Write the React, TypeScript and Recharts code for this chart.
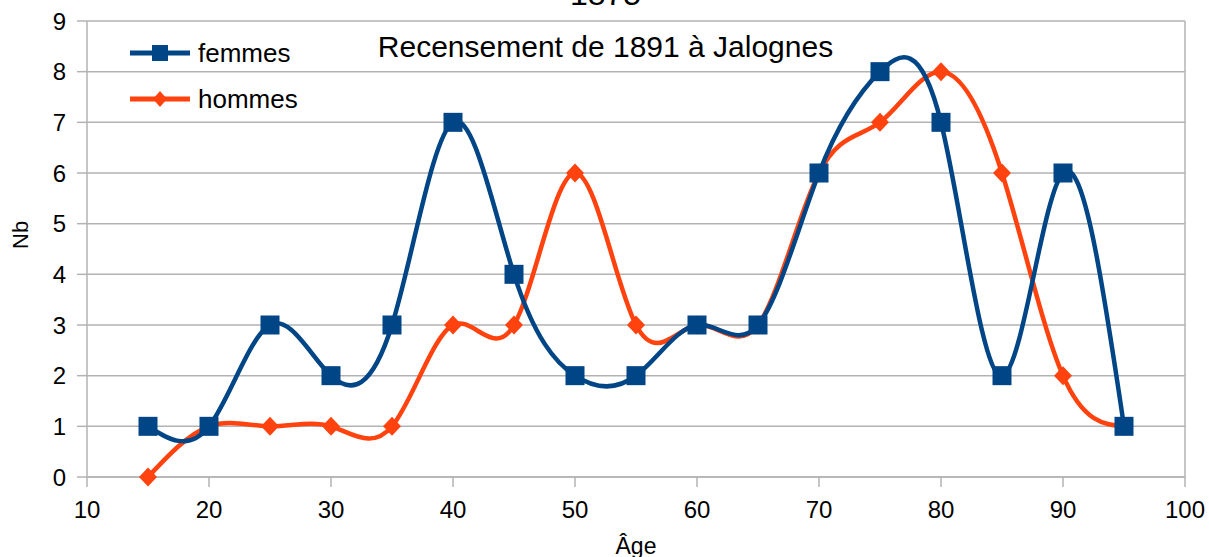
import React from 'react';
import { CartesianGrid, Line, LineChart, ReferenceLine, XAxis, YAxis } from 'recharts';

const ages = [15, 20, 25, 30, 35, 40, 45, 50, 55, 60, 65, 70, 75, 80, 85, 90, 95];
const femmes = [1, 1, 3, 2, 3, 7, 4, 2, 2, 3, 3, 6, 8, 7, 2, 6, 1];
const hommes = [0, 1, 1, 1, 1, 3, 3, 6, 3, 3, 3, 6, 7, 8, 6, 2, 1];
const xTicks = [10, 20, 30, 40, 50, 60, 70, 80, 90, 100];
const yTicks = [0, 1, 2, 3, 4, 5, 6, 7, 8, 9];

const BLUE = '#004586';
const ORANGE = '#ff420e';
const GRID = '#b3b3b3';
const FONT = '"Liberation Sans", Arial, sans-serif';

const data = ages.map((age, i) => ({ age, femmes: femmes[i], hommes: hommes[i] }));

const SquareDot = (props: any) => {
  const { cx, cy } = props;
  if (cx == null || cy == null) return null;
  return <rect x={cx - 9.5} y={cy - 9.5} width={19} height={19} fill={BLUE} />;
};

const DiamondDot = (props: any) => {
  const { cx, cy } = props;
  if (cx == null || cy == null) return null;
  return <polygon points={`${cx},${cy - 9.5} ${cx + 9},${cy} ${cx},${cy + 9.5} ${cx - 9},${cy}`} fill={ORANGE} />;
};

const legendItems = [
  { name: 'femmes', color: BLUE, shape: 'square' },
  { name: 'hommes', color: ORANGE, shape: 'diamond' },
];

const ChartLegend = () => (
  <div style={{ position: 'absolute', left: 130, top: 30, fontFamily: FONT, fontSize: 26, color: '#000', zIndex: 2 }}>
    {legendItems.map((e) => (
      <div key={e.name} style={{ display: 'flex', alignItems: 'center', height: 46 }}>
        <svg width={68} height={20} style={{ display: 'block' }}>
          <line x1={0} y1={10} x2={60} y2={10} stroke={e.color} strokeWidth={5} />
          {e.shape === 'square' ? (
            <rect x={22} y={2} width={16} height={16} fill={e.color} />
          ) : (
            <polygon points="30,2 37,10 30,18 23,10" fill={e.color} />
          )}
        </svg>
        <span>{e.name}</span>
      </div>
    ))}
  </div>
);

const App: React.FC = () => {
  return (
    <div style={{ position: 'absolute', left: 0, top: 0, width: 1209, height: 557, background: '#fff', overflow: 'hidden' }}>
      <div style={{ position: 'absolute', left: 0, width: 1211, top: -24, textAlign: 'center', fontFamily: FONT, fontSize: 32, lineHeight: '36px' }}>
        1875
      </div>
      <div style={{ position: 'absolute', left: 0, width: 1211, top: 30, textAlign: 'center', fontFamily: FONT, fontSize: 30, lineHeight: '34px', zIndex: 2 }}>
        Recensement de 1891 à Jalognes
      </div>
      <ChartLegend />
      <LineChart width={1209} height={557} data={data} margin={{ top: 21, right: 24, left: 0, bottom: 0 }}>
        <CartesianGrid vertical={false} stroke={GRID} strokeWidth={1.5} />
        <ReferenceLine x={100} stroke={GRID} strokeWidth={1.5} />
        <XAxis
          dataKey="age"
          type="number"
          domain={[10, 100]}
          ticks={xTicks}
          interval={0}
          height={80}
          tickSize={10}
          tickMargin={14}
          stroke={GRID}
          strokeWidth={1.5}
          tick={{ fontSize: 24, fill: '#000', fontFamily: FONT }}
          label={{ value: 'Âge', position: 'insideBottom', offset: 3, fontSize: 23, fill: '#000', fontFamily: FONT }}
        />
        <YAxis
          type="number"
          domain={[0, 9]}
          ticks={yTicks}
          interval={0}
          width={87}
          tickSize={10}
          tickMargin={11}
          stroke={GRID}
          strokeWidth={1.5}
          tick={{ fontSize: 24, fill: '#000', fontFamily: FONT }}
          label={{ value: 'Nb', angle: -90, position: 'insideLeft', offset: 20, fontSize: 22, fill: '#000', fontFamily: FONT }}
        />
        <Line
          type="natural"
          dataKey="hommes"
          stroke={ORANGE}
          strokeWidth={4.5}
          dot={<DiamondDot />}
          activeDot={false}
          isAnimationActive={false}
        />
        <Line
          type="natural"
          dataKey="femmes"
          stroke={BLUE}
          strokeWidth={4.5}
          dot={<SquareDot />}
          activeDot={false}
          isAnimationActive={false}
        />
      </LineChart>
    </div>
  );
};

export default App;
